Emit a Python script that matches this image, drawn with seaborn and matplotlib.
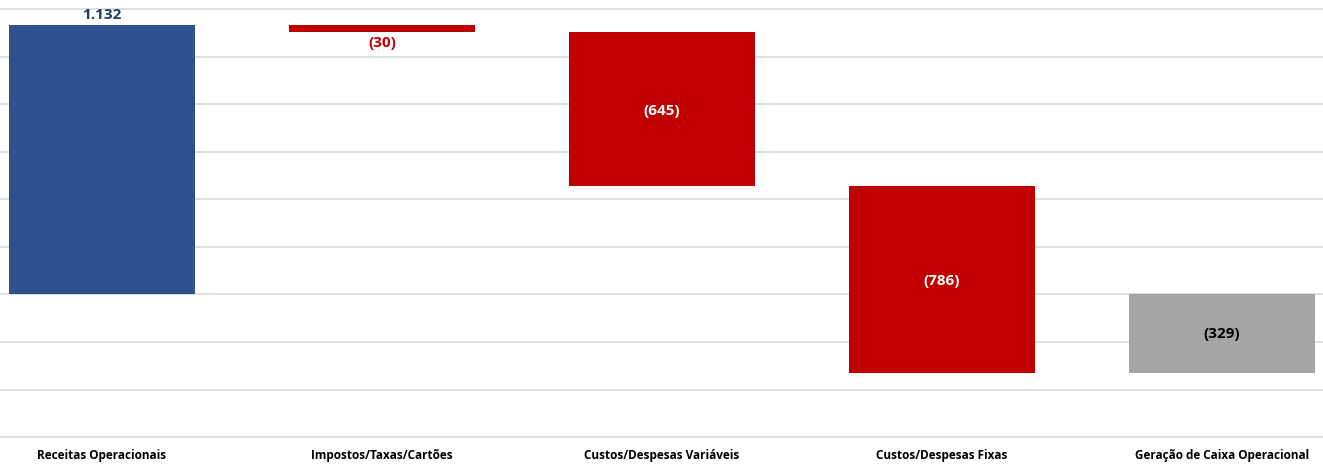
import numpy as np
import matplotlib
matplotlib.use("Agg")
import matplotlib.pyplot as plt
import seaborn as sns

categories = ["Receitas Operacionais", "Impostos/Taxas/Cartões", "Custos/Despesas Variáveis",
              "Custos/Despesas Fixas", "Geração de Caixa Operacional"]
values = [1132, -30, -645, -786, -329]
kinds = ["total", "delta", "delta", "delta", "total"]
labels = ["1.132", "(30)", "(645)", "(786)", "(329)"]

# waterfall bottoms / heights
bottoms, heights = [], []
running = 0
for v, k in zip(values, kinds):
    if k == "total":
        bottoms.append(0)
        heights.append(v)
        running = v
    else:
        bottoms.append(running)
        heights.append(v)
        running += v

sns.set_style("white")
plt.rcParams['font.family'] = ['Open Sans', 'DejaVu Sans']

fig = plt.figure(figsize=(13.23, 4.65), dpi=100)
ax = fig.add_axes([0, 26 / 465, 1, 1 - 26 / 465])

sns.barplot(x=categories, y=heights, bottom=bottoms, color="#2F528F", width=0.664,
            saturation=1, ax=ax, zorder=3)

face = ["#2F528F", "#C00000", "#C00000", "#C00000", "#A5A5A5"]
for p, c in zip(ax.patches, face):
    p.set_facecolor(c)
    p.set_edgecolor("none")

ax.set_ylim(-608, 1238)
ax.set_xlim(-0.364, 4.361)
ax.set_yticks(np.arange(-600, 1201, 200))
ax.yaxis.grid(True, color="#D9D9D9", linewidth=1.2, zorder=0)
ax.set_axisbelow(True)
ax.tick_params(axis="y", left=False, labelleft=False)
ax.tick_params(axis="x", bottom=False, pad=4)
for s in ax.spines.values():
    s.set_visible(False)
for t in ax.get_xticklabels():
    t.set_fontsize(8.5)
    t.set_fontweight("bold")
    t.set_color("#000000")

# value labels
for i, (b, h, lab) in enumerate(zip(bottoms, heights, labels)):
    top = max(b, b + h)
    low = min(b, b + h)
    if i == 0:
        ax.text(i, top + 12, lab, ha="center", va="bottom", fontsize=11,
                fontweight="bold", color="#1F3864")
    elif i == 1:
        ax.text(i, low - 15, lab, ha="center", va="top", fontsize=11,
                fontweight="bold", color="#C00000")
    elif i == 4:
        ax.text(i, (top + low) / 2, lab, ha="center", va="center", fontsize=11,
                fontweight="bold", color="#000000")
    else:
        ax.text(i, (top + low) / 2 - 8, lab, ha="center", va="center", fontsize=11,
                fontweight="bold", color="#FFFFFF")

fig.savefig("out.png", dpi=100)
